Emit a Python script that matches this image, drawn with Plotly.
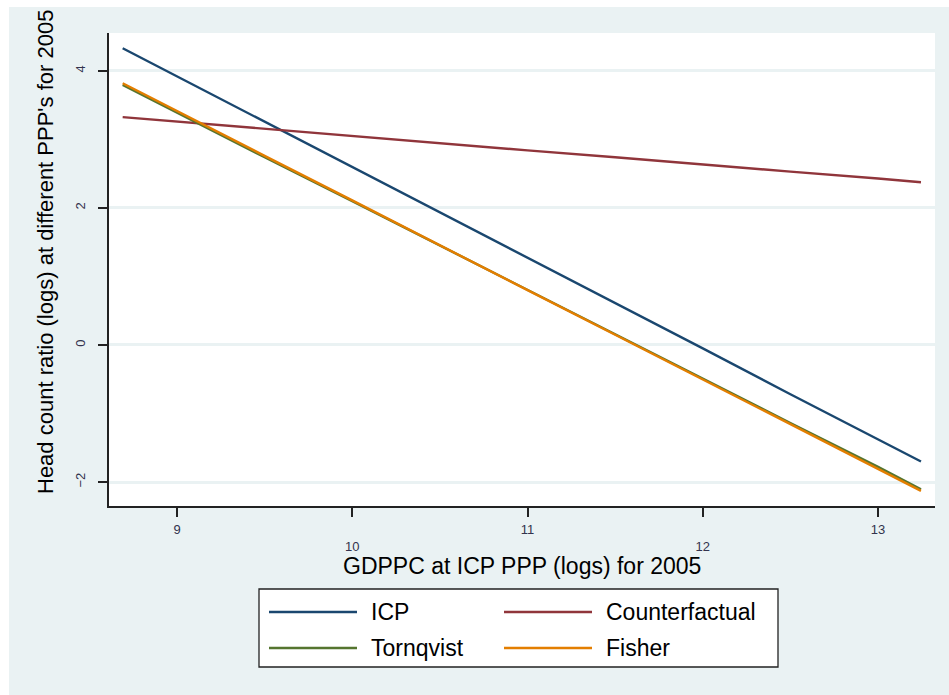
import plotly.graph_objects as go

# Data
gdppc = [8.69, 9.0, 9.5, 10.0, 10.5, 11.0, 11.5, 12.0, 12.5, 13.0, 13.245]
icp = [4.33, 3.92, 3.26, 2.60, 1.93, 1.27, 0.61, -0.05, -0.72, -1.38, -1.70]
counterfactual = [3.326, 3.26, 3.16, 3.05, 2.95, 2.84, 2.74, 2.63, 2.53, 2.43, 2.374]
tornqvist = [3.796, 3.39, 2.74, 2.10, 1.45, 0.80, 0.16, -0.49, -1.14, -1.78, -2.105]
fisher = [3.82, 3.41, 2.76, 2.11, 1.45, 0.80, 0.15, -0.50, -1.16, -1.81, -2.13]

x_ticks = [9, 10, 11, 12, 13]
x_ticktext = ["9", "<br>10", "11", "<br>12", "13"]
y_ticks = [-2, 0, 2, 4]

series = [
    ("ICP", icp, "#1A476F"),
    ("Counterfactual", counterfactual, "#90353B"),
    ("Tornqvist", tornqvist, "#55752F"),
    ("Fisher", fisher, "#E37E00"),
]

W, H = 949, 695
ML, MR, MT, MB = 109, 14, 33, 189
PW, PH = W - ML - MR, H - MT - MB
BG = "#EAF2F3"
FONT = "Liberation Sans, Arial, sans-serif"


def px(x):
    return (x - ML) / PW


def py(y):
    return (H - MB - y) / PH


fig = go.Figure()
for name, vals, col in series:
    fig.add_trace(go.Scatter(x=gdppc, y=vals, mode="lines", name=name,
                             line=dict(color=col, width=2.4), showlegend=False))

shapes = [
    # outer graph region background
    dict(type="rect", xref="paper", yref="paper", x0=px(9), x1=px(949), y0=py(7), y1=py(695),
         fillcolor=BG, line=dict(width=0), layer="below"),
    # plot region
    dict(type="rect", xref="paper", yref="paper", x0=0, x1=1, y0=0, y1=1,
         fillcolor="white", line=dict(width=0), layer="below"),
    # legend box
    dict(type="rect", xref="paper", yref="paper", x0=px(259), x1=px(778), y0=py(667), y1=py(589),
         fillcolor="white", line=dict(color="#222222", width=1.3)),
]
leg_pos = [(269, 612), (504, 612), (269, 648), (504, 648)]
annotations = []
for (name, vals, col), (lx, ly) in zip(series, leg_pos):
    shapes.append(dict(type="line", xref="paper", yref="paper", x0=px(lx), x1=px(lx + 88),
                       y0=py(ly), y1=py(ly), line=dict(color=col, width=2.4)))
    annotations.append(dict(xref="paper", yref="paper", x=px(lx + 100), y=py(ly),
                            xanchor="left", yanchor="middle", showarrow=False, text=name,
                            font=dict(family=FONT, size=23, color="black")))

annotations.append(dict(xref="paper", yref="paper", x=px(522), y=py(566), xanchor="center",
                        yanchor="middle", showarrow=False, text="GDPPC at ICP PPP (logs) for 2005",
                        font=dict(family=FONT, size=23, color="black")))
annotations.append(dict(xref="paper", yref="paper", x=px(45), y=py(252), xanchor="center",
                        yanchor="middle", showarrow=False, textangle=-90,
                        text="Head count ratio (logs) at different PPP's for 2005",
                        font=dict(family=FONT, size=22, color="black")))

fig.update_layout(
    width=W, height=H,
    margin=dict(l=ML, r=MR, t=MT, b=MB),
    paper_bgcolor="white", plot_bgcolor="rgba(0,0,0,0)",
    shapes=shapes, annotations=annotations,
    xaxis=dict(range=[8.612, 13.325], tickvals=x_ticks, ticktext=x_ticktext,
               showgrid=False, zeroline=False, showline=True, linecolor="#222222", linewidth=1.5,
               ticks="outside", ticklen=9, tickwidth=1.5, tickcolor="#222222",
               ticklabelstandoff=2,
               tickfont=dict(family=FONT, size=13, color="#33334d")),
    yaxis=dict(range=[-2.35, 4.553], tickvals=y_ticks, tickangle=-90, ticklabelstandoff=8,
               showgrid=True, gridcolor=BG, gridwidth=2.5, zeroline=False,
               showline=True, linecolor="#222222", linewidth=1.5,
               ticks="outside", ticklen=9, tickwidth=1.5, tickcolor="#222222",
               tickfont=dict(family=FONT, size=13, color="#33334d")),
)

fig.write_html("out.html")
